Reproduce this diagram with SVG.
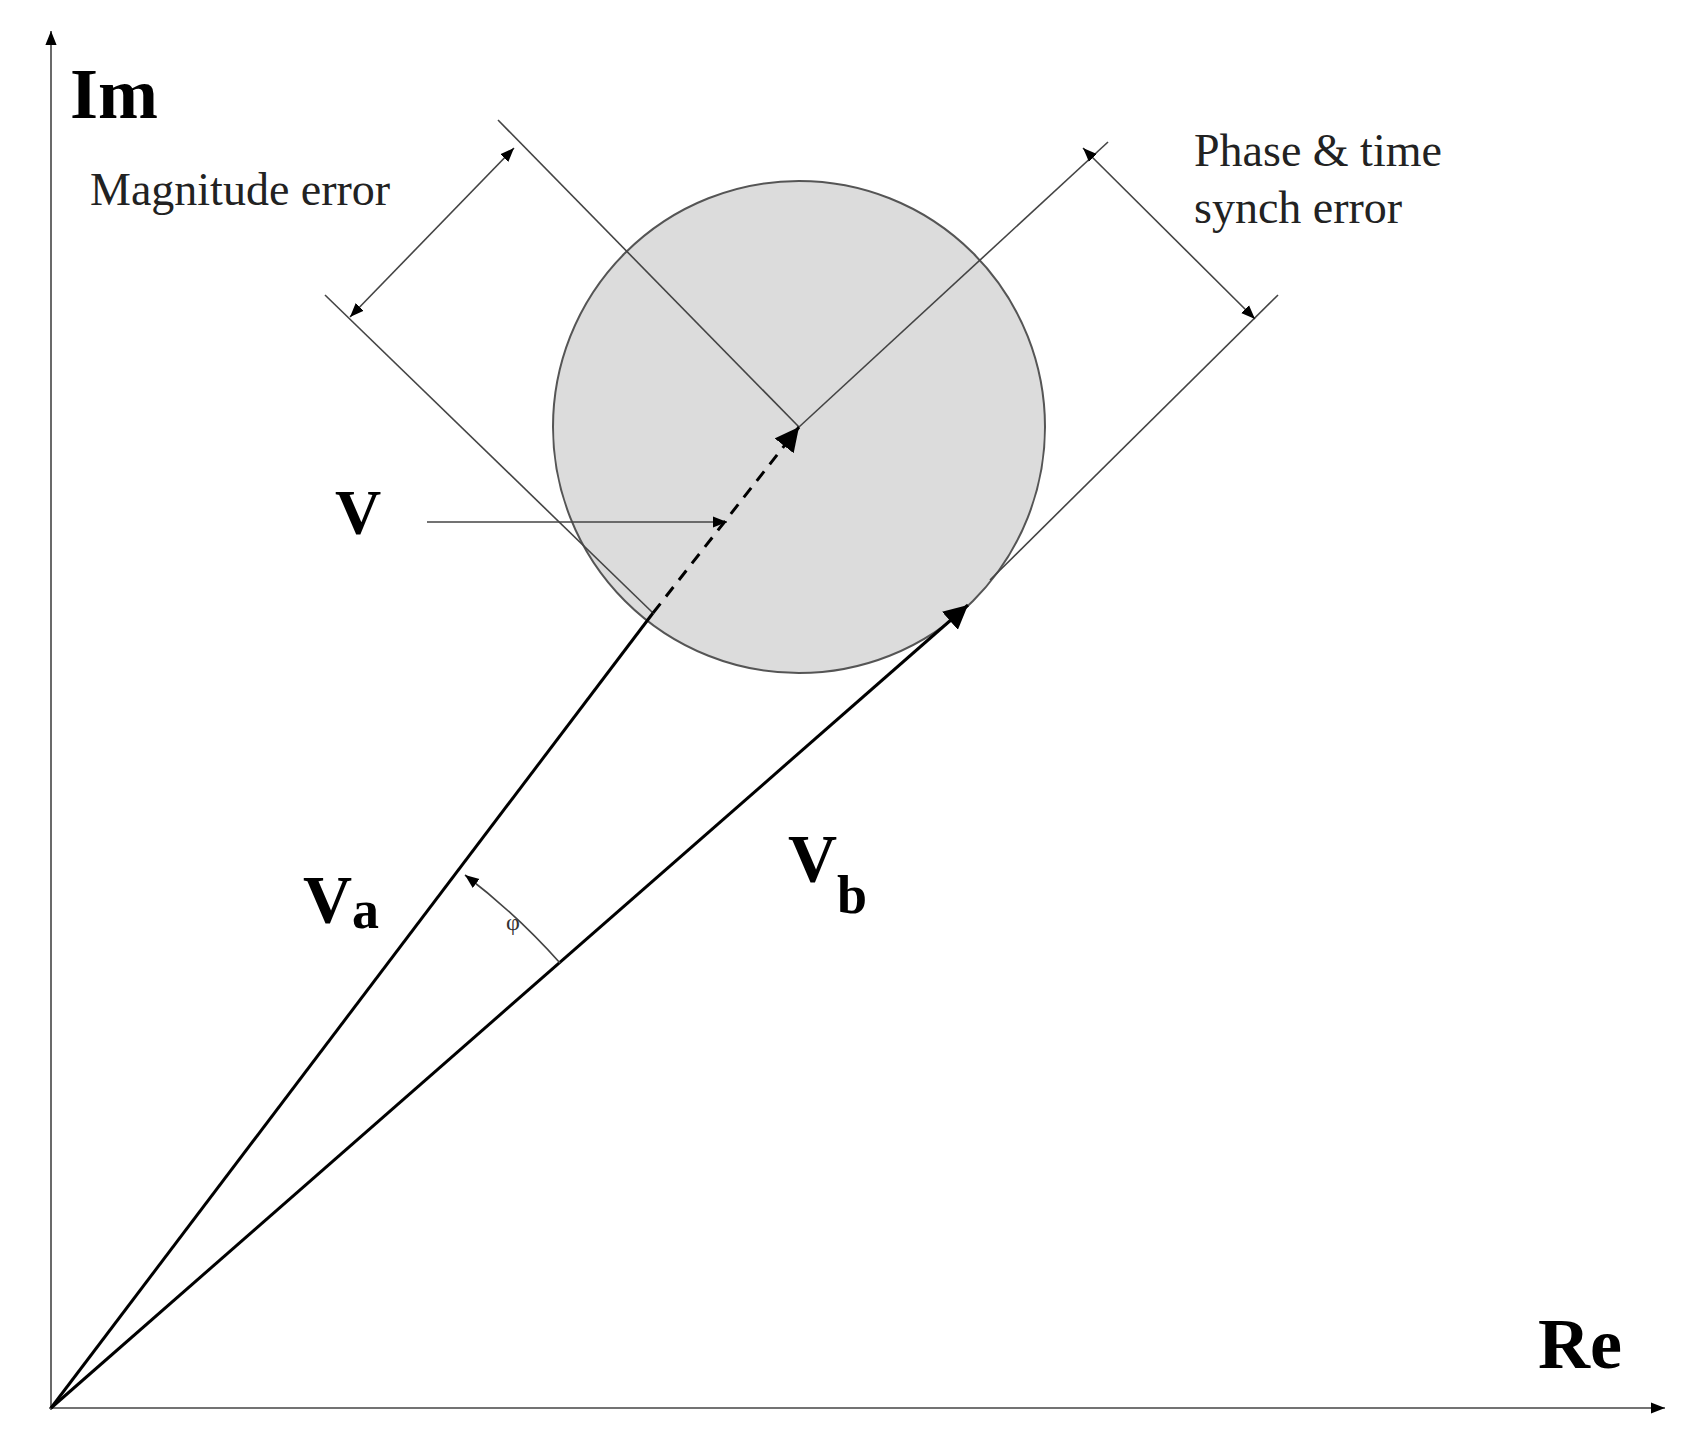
<svg xmlns="http://www.w3.org/2000/svg" width="1702" height="1456" viewBox="0 0 1702 1456">
<style>
.thin{stroke:#444;stroke-width:1.6;fill:none}
.vec{stroke:#000;stroke-width:3;fill:none}
.lab{font-family:"Liberation Serif",serif;font-weight:bold;fill:#000}
.txt{font-family:"Liberation Serif",serif;fill:#222;font-size:46px}
</style>
<defs>
<marker id="as" viewBox="0 0 10 10" refX="10" refY="5" markerWidth="14" markerHeight="14" orient="auto-start-reverse" markerUnits="userSpaceOnUse"><path d="M0,1L10,5L0,9z" fill="#000"/></marker>
<marker id="av" viewBox="0 0 10 10" refX="10" refY="5" markerWidth="8" markerHeight="8" orient="auto"><path d="M0,0L10,5L0,10z" fill="#000"/></marker>
</defs>
<rect width="1702" height="1456" fill="#fff"/>
<g id="circle"><circle cx="799" cy="427" r="246" fill="#dcdcdc" stroke="#555" stroke-width="2"/></g>
<g id="connectors">
<line class="thin" x1="51" y1="1410" x2="51" y2="31" marker-end="url(#as)"/>
<line class="thin" x1="49" y1="1408" x2="1665" y2="1408" marker-end="url(#as)"/>
<line class="thin" x1="498" y1="120" x2="799" y2="427"/>
<line class="thin" x1="325" y1="295" x2="653" y2="613"/>
<line class="thin" x1="514" y1="148" x2="350" y2="317" marker-start="url(#as)" marker-end="url(#as)"/>
<line class="thin" x1="799" y1="427" x2="1108" y2="142"/>
<line class="thin" x1="990" y1="580" x2="1278" y2="295"/>
<line class="thin" x1="1083" y1="148" x2="1255" y2="319" marker-start="url(#as)" marker-end="url(#as)"/>
<line class="thin" x1="427" y1="522" x2="727" y2="522" marker-end="url(#as)"/>
<line class="vec" x1="51" y1="1408" x2="653" y2="613"/>
<line class="vec" x1="653" y1="613" x2="799" y2="427" stroke-dasharray="12,9" marker-end="url(#av)"/>
<line class="vec" x1="51" y1="1408" x2="968" y2="605" marker-end="url(#av)"/>
<path class="thin" d="M560,963 A675,675 0 0 0 465,875" marker-end="url(#as)"/>
</g>
<g id="labels">
<text class="lab" x="70" y="118" font-size="72">Im</text>
<text class="lab" x="1538" y="1368" font-size="72">Re</text>
<text class="lab" x="335" y="534" font-size="64">V</text>
<text class="lab" x="303" y="922" font-size="68">V<tspan font-size="54" dy="6">a</tspan></text>
<text class="lab" x="788" y="881" font-size="68">V<tspan font-size="54" dy="32">b</tspan></text>
<text class="txt" x="90" y="205">Magnitude error</text>
<text class="txt" x="1194" y="166">Phase &amp; time</text>
<text class="txt" x="1194" y="223">synch error</text>
<text x="506" y="930" font-family="Liberation Serif,serif" font-size="24" fill="#333">φ</text>
</g>
</svg>
